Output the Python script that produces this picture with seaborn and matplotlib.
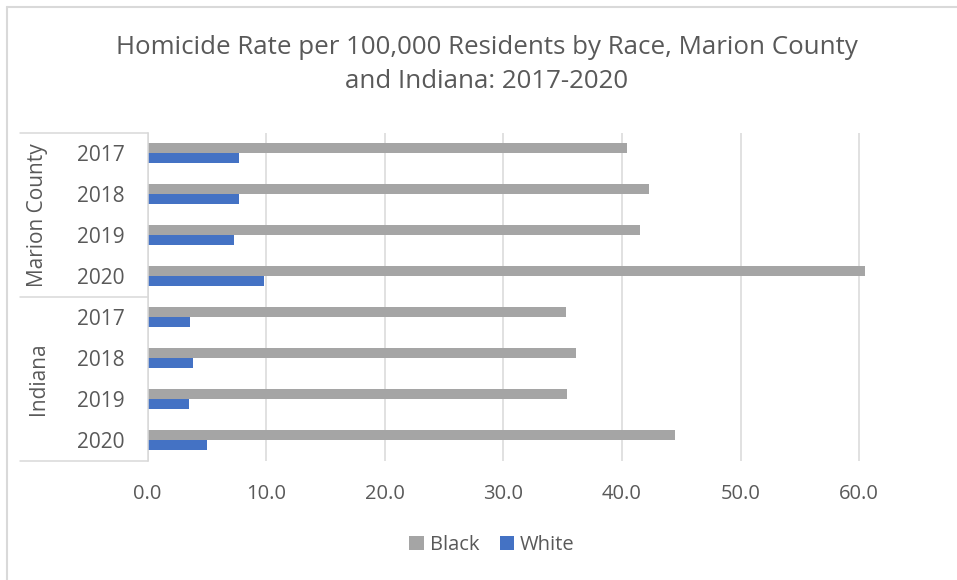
import matplotlib
matplotlib.use("Agg")
import matplotlib.pyplot as plt
from matplotlib.lines import Line2D
from matplotlib.patches import Patch
import pandas as pd
import seaborn as sns

# Homicide rates per 100,000 residents
regions = ["Marion County", "Indiana"]
years = ["2017", "2018", "2019", "2020"]
black_marion = [40.4, 42.3, 41.5, 60.5]
white_marion = [7.7, 7.7, 7.3, 9.8]
black_indiana = [35.3, 36.1, 35.4, 44.5]
white_indiana = [3.6, 3.8, 3.5, 5.0]
races = ["Black", "White"]
x_ticks = [0, 10, 20, 30, 40, 50, 60]

rows = []
for region, blk, wht in [("Marion County", black_marion, white_marion),
                         ("Indiana", black_indiana, white_indiana)]:
    for yr, b, w in zip(years, blk, wht):
        key = f"{region} {yr}"
        rows.append({"cat": key, "year": yr, "race": "Black", "rate": b})
        rows.append({"cat": key, "year": yr, "race": "White", "rate": w})
df = pd.DataFrame(rows)
order = [f"{r} {y}" for r in regions for y in years]

sns.set_theme(style="white")
plt.rcParams["font.family"] = ["Open Sans", "DejaVu Sans"]
text_color = "#595959"
line_color = "#d9d9d9"
palette = {"Black": "#A5A5A5", "White": "#4472C4"}

W, H = 957, 580
fig = plt.figure(figsize=(W / 100, H / 100), dpi=100)

# plot area in pixel coordinates
left_px, top_px, bottom_px = 147.5, 132.7, 460.7
xmax = 62.0
px_per_unit = 11.86
right_px = left_px + xmax * px_per_unit
ax = fig.add_axes([left_px / W, 1 - bottom_px / H,
                   (right_px - left_px) / W, (bottom_px - top_px) / H])

sns.barplot(data=df, x="rate", y="cat", hue="race", order=order,
            hue_order=races, palette=palette, orient="h", width=0.49,
            gap=0, saturation=1, ax=ax, legend=False, edgecolor="none")

ax.set_xlim(0, xmax)
ax.set_ylim(len(order) - 0.5, -0.5)
ax.set_xticks(x_ticks)
ax.set_xticklabels([f"{t:.1f}" for t in x_ticks], color=text_color, fontsize=14.5)
ax.set_yticks(range(len(order)))
ax.set_yticklabels([c.split(" ")[-1] for c in order], color=text_color, fontsize=15)
ax.tick_params(axis="x", length=0, pad=17)
ax.tick_params(axis="y", length=0, pad=16.5)
ax.set_xlabel("")
ax.set_ylabel("")
ax.grid(axis="x", color=line_color, linewidth=1.1)
ax.set_axisbelow(True)
for side in ["top", "right", "bottom"]:
    ax.spines[side].set_visible(False)
ax.spines["left"].set_color(line_color)
ax.spines["left"].set_linewidth(1.1)

# category table lines and region labels
def fx(px):
    return px / W

def fy(py):
    return 1 - py / H

for py in [top_px, 296.7, bottom_px]:
    fig.add_artist(Line2D([fx(20), fx(left_px)], [fy(py), fy(py)],
                          color=line_color, linewidth=1.1))
fig.text(fx(38), fy((top_px + 296.7) / 2), "Marion County", rotation=90,
         ha="center", va="center", color=text_color, fontsize=15)
fig.text(fx(38), fy((296.7 + bottom_px) / 2), "Indiana", rotation=90,
         ha="center", va="center", color=text_color, fontsize=15)

# title
fig.text(fx(487), fy(47), "Homicide Rate per 100,000 Residents by Race, Marion County",
         ha="center", va="center", color=text_color, fontsize=18.6)
fig.text(fx(487), fy(82), "and Indiana: 2017-2020",
         ha="center", va="center", color=text_color, fontsize=18.6)

# legend
handles = [Patch(facecolor=palette[r], edgecolor="none", label=r) for r in races]
fig.legend(handles=handles, loc="center", bbox_to_anchor=(fx(492), fy(545)),
           ncol=2, frameon=False, fontsize=14.5, handlelength=0.72,
           handleheight=0.72, handletextpad=0.3, columnspacing=1.0,
           labelcolor=text_color)

# outer chart border
fig.add_artist(Line2D([fx(7), fx(7)], [fy(7), 0], color=line_color, linewidth=1.5))
fig.add_artist(Line2D([fx(7), 1], [fy(7), fy(7)], color=line_color, linewidth=1.5))

fig.savefig("out.png", dpi=100, facecolor="white")
